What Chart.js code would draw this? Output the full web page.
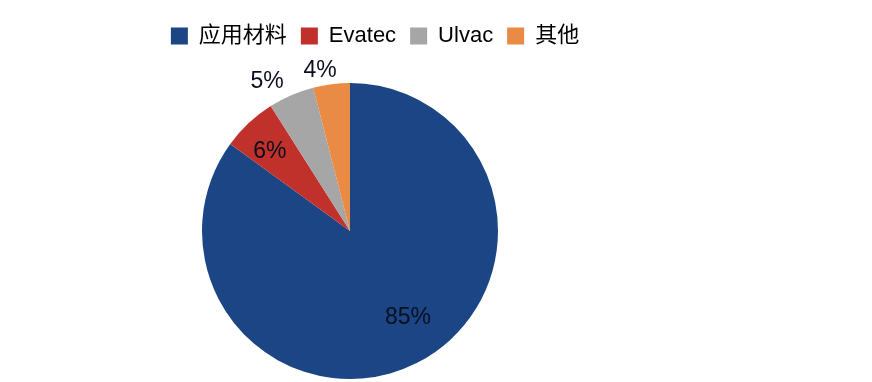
<!DOCTYPE html>
<html><head><meta charset="utf-8">
<script src="https://cdn.jsdelivr.net/npm/chart.js@4/dist/chart.umd.min.js"></script>
<style>html,body{margin:0;padding:0;background:#fff;overflow:hidden}</style></head>
<body><canvas id="c" width="872" height="382"></canvas>
<script>
const categories = ['应用材料', 'Evatec', 'Ulvac', '其他'];
const shares = [85, 6, 5, 4];
const sliceColors = ['#1B4584', '#C0312B', '#A6A6A6', '#EA8B45'];
const labelRadiusFrac = [0.707, 0.76, 1.153, 1.10];
const labelAngleShiftDeg = [-6.7, -2.2, -5.7, -3.4];

const FONT = '"Liberation Sans", Arial, "Noto Sans CJK SC", sans-serif';

const legendShift = {
  id: 'legendShift',
  beforeInit(chart) {
    const lg = chart.legend;
    if (lg) {
      const origFit = lg.fit;
      lg.fit = function () { origFit.call(this); this.height += 23; };
    }
  },
  afterLayout(chart) {
    const lg = chart.legend;
    if (lg) { lg.left += 25; lg.right += 25; }
  }
};

const pctLabels = {
  id: 'pctLabels',
  afterDatasetsDraw(chart) {
    const ctx = chart.ctx;
    const meta = chart.getDatasetMeta(0);
    ctx.save();
    ctx.font = '23px ' + FONT;
    ctx.fillStyle = '#0a0f1e';
    ctx.textAlign = 'center';
    ctx.textBaseline = 'middle';
    meta.data.forEach((arc, i) => {
      const p = arc.getProps(['x', 'y', 'startAngle', 'endAngle', 'outerRadius'], true);
      const mid = (p.startAngle + p.endAngle) / 2 + labelAngleShiftDeg[i] * Math.PI / 180;
      const r = p.outerRadius * labelRadiusFrac[i];
      ctx.fillText(shares[i] + '%', p.x + Math.cos(mid) * r, p.y + Math.sin(mid) * r);
    });
    ctx.restore();
  }
};

new Chart(document.getElementById('c'), {
  type: 'pie',
  data: {
    labels: categories,
    datasets: [{
      data: shares,
      backgroundColor: sliceColors,
      borderWidth: 0,
      radius: 148
    }]
  },
  options: {
    responsive: false,
    animation: false,
    layout: { padding: { left: 0, right: 172, top: 11, bottom: 0 } },
    plugins: {
      tooltip: { enabled: false },
      legend: {
        position: 'top',
        labels: {
          boxWidth: 17,
          boxHeight: 17,
          padding: 14,
          color: '#000',
          font: { size: 22, family: FONT }
        }
      }
    }
  },
  plugins: [legendShift, pctLabels]
});
</script>
</body></html>
